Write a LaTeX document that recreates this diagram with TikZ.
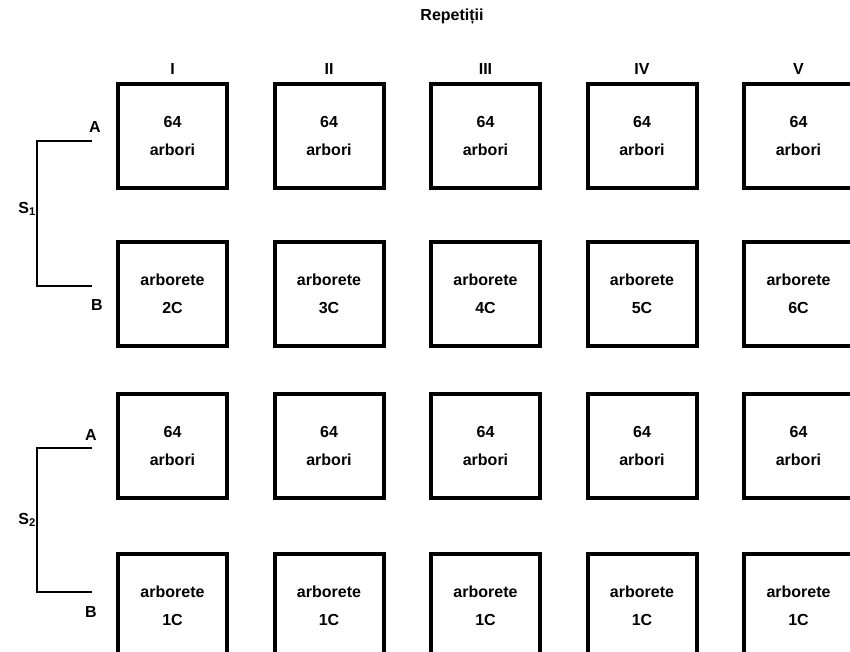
\documentclass[tikz,border=0pt]{standalone}
\usepackage{fontspec}
\setmainfont{Liberation Sans}
\usetikzlibrary{positioning}

\begin{document}
\begin{tikzpicture}[x=1pt, y=-1pt, font=\bfseries\fontsize{16}{28}\selectfont,
  plot/.style={draw, line width=4pt, minimum width=109pt, minimum height=104pt,
    align=center, inner sep=0pt},
  brace/.style={line width=1.3pt}]
  \clip (0,0) rectangle (850,651);
  \node (title) at (452,17) {Repetiții};
  % five repetitions, four rows of plots
  \foreach \c [count=\i from 0] in {I,II,III,IV,V} {
    \pgfmathtruncatemacro{\n}{\i+2}
    \node (col\i) at ({172.5+156.5*\i},69) {\c};
    \node[plot] (r1c\i) at ({172.5+156.5*\i},136) {64\\arbori};
    \node[plot] (r2c\i) at ({172.5+156.5*\i},294) {arborete\\\n C};
    \node[plot] (r3c\i) at ({172.5+156.5*\i},446) {64\\arbori};
    \node[plot] (r4c\i) at ({172.5+156.5*\i},606) {arborete\\1C};
  }
  % S1
  \node (a1) at (95,127) {A};
  \node (b1) at (97,305) {B};
  \coordinate (s1a) at (92,141);
  \coordinate (s1b) at (92,286);
  \draw[brace] (s1a) -- ++(-55,0) |- (s1b);
  \node[anchor=east, inner sep=1pt] (s1) at (37,209) {S\textsubscript{1}};
  % S2
  \node (a2) at (91,435) {A};
  \node (b2) at (91,612) {B};
  \coordinate (s2a) at (92,448);
  \coordinate (s2b) at (92,592);
  \draw[brace] (s2a) -- ++(-55,0) |- (s2b);
  \node[anchor=east, inner sep=1pt] (s2) at (37,520) {S\textsubscript{2}};
\end{tikzpicture}
\end{document}
